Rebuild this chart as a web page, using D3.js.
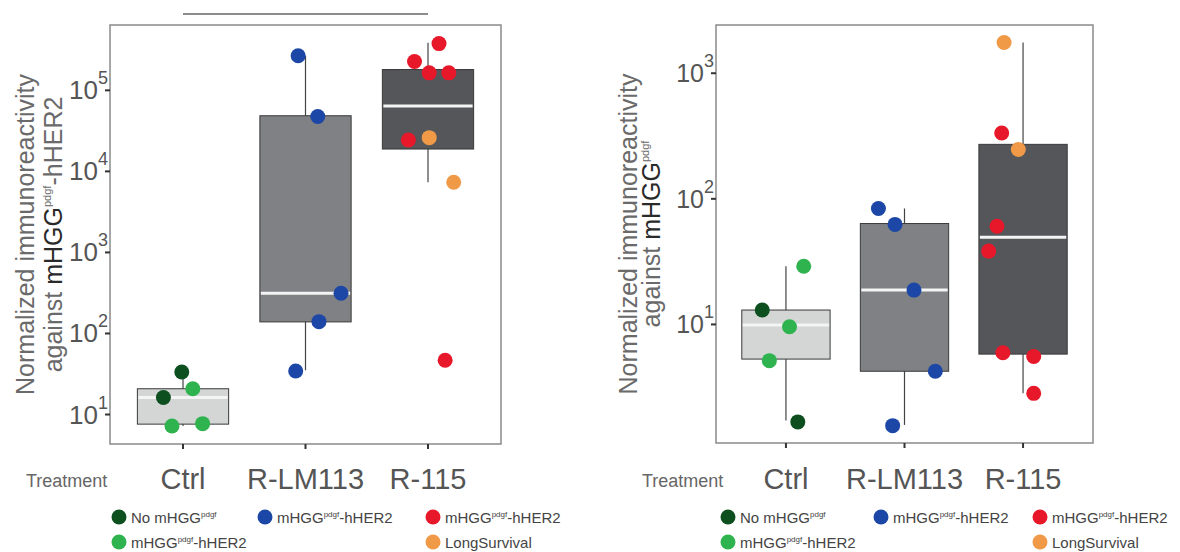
<!DOCTYPE html>
<html>
<head>
<meta charset="utf-8">
<script src="https://cdn.jsdelivr.net/npm/d3@7"></script>
<style>
  html, body { margin: 0; padding: 0; background: #fff; }
  svg { display: block; font-family: "Liberation Sans", Arial, sans-serif; }
</style>
</head>
<body>
<svg id="chart" width="1180" height="552"></svg>
<script>
// ---------------- DATA ----------------
const categories = ["Ctrl", "R-LM113", "R-115"];
const xAxisName = "Treatment";

// Left panel: against mHGG(pdgf)-hHER2
const leftTicks = [1e1, 1e2, 1e3, 1e4, 1e5];
const leftWhiskerLow  = [7.1, 34.7, 7240];
const leftQ1          = [7.5, 137, 18600];
const leftMedian      = [16, 309, 63100];
const leftQ3          = [20.5, 47900, 178000];
const leftWhiskerHigh = [33, 263000, 380000];
const leftPointGroup  = [0, 0, 0, 0, 0,   1, 1, 1, 1, 1,   2, 2, 2, 2, 2, 2, 2, 2];
const leftPointValue  = [33, 16, 20.5, 7.1, 7.6,   263000, 46800, 309, 138, 34,   372000, 224000, 162000, 162000, 24000, 46, 25700, 7240];
const leftPointType   = ["no", "no", "ctrl", "ctrl", "ctrl",   "lm", "lm", "lm", "lm", "lm",   "r115", "r115", "r115", "r115", "r115", "r115", "long", "long"];
const leftPointJitter = [-0.01, -0.16, 0.08, -0.09, 0.16,   -0.06, 0.10, 0.29, 0.11, -0.08,   0.09, -0.11, 0.01, 0.17, -0.16, 0.14, 0.01, 0.21];

// Right panel: against mHGG(pdgf)
const rightTicks = [1e1, 1e2, 1e3];
const rightWhiskerLow  = [1.7, 1.57, 2.8];
const rightQ1          = [5.25, 4.2, 5.75];
const rightMedian      = [9.8, 18.6, 49];
const rightQ3          = [12.9, 63, 269];
const rightWhiskerHigh = [28.8, 83, 1740];
const rightPointGroup  = [0, 0, 0, 0, 0,   1, 1, 1, 1, 1,   2, 2, 2, 2, 2, 2, 2, 2];
const rightPointValue  = [12.9, 9.5, 5.1, 28.8, 1.66,   83, 62, 18.6, 4.2, 1.55,   1740, 331, 245, 60, 38, 5.9, 5.5, 2.8];
const rightPointType   = ["no", "ctrl", "ctrl", "ctrl", "no",   "lm", "lm", "lm", "lm", "lm",   "long", "r115", "long", "r115", "r115", "r115", "r115", "r115"];
const rightPointJitter = [-0.20, 0.03, -0.14, 0.15, 0.10,   -0.22, -0.08, 0.08, 0.26, -0.10,   -0.16, -0.18, -0.04, -0.22, -0.29, -0.17, 0.09, 0.09];

// Legend
const legendTypes = ["no", "ctrl", "lm", "r115", "long"];
const legendBase  = ["No mHGG", "mHGG", "mHGG", "mHGG", "LongSurvival"];
const legendSup   = ["pdgf", "pdgf", "pdgf", "pdgf", ""];
const legendRest  = ["", "-hHER2", "-hHER2", "-hHER2", ""];
const legendCol   = [0, 0, 1, 2, 2];
const legendRow   = [0, 1, 0, 0, 1];

// Styling
const typeColor = { no: "#0e4f20", ctrl: "#2fb34f", lm: "#1c47a6", r115: "#e8182b", long: "#f09a48" };
const boxFill = ["#d3d6d5", "#7f8184", "#54565a"];

// ---------------- DRAW ----------------
const svg = d3.select("#chart");
const FONT = '"Liberation Sans", Arial, sans-serif';

function drawPanel(o) {
  const g = svg.append("g");
  const x = d3.scaleBand().domain(categories).range([o.x0, o.x1]).paddingInner(0).paddingOuter(o.padOuter);
  const y = d3.scaleLog().domain(o.yDomain).range([o.y1, o.y0]);
  const bw = x.bandwidth() * 0.745;
  const cx = i => x(categories[i]) + x.bandwidth() / 2;

  // whiskers
  g.selectAll("line.wh").data(categories).join("line")
    .attr("x1", (d, i) => cx(i)).attr("x2", (d, i) => cx(i))
    .attr("y1", (d, i) => y(o.wlo[i])).attr("y2", (d, i) => y(o.whi[i]))
    .attr("stroke", "#444").attr("stroke-width", 1.2);
  // boxes
  g.selectAll("rect.box").data(categories).join("rect")
    .attr("x", (d, i) => cx(i) - bw / 2).attr("width", bw)
    .attr("y", (d, i) => y(o.q3[i])).attr("height", (d, i) => y(o.q1[i]) - y(o.q3[i]))
    .attr("fill", (d, i) => boxFill[i]).attr("stroke", "#3a3a3a").attr("stroke-width", 1);
  // medians
  g.selectAll("line.med").data(categories).join("line")
    .attr("x1", (d, i) => cx(i) - bw / 2 + 1).attr("x2", (d, i) => cx(i) + bw / 2 - 1)
    .attr("y1", (d, i) => y(o.med[i])).attr("y2", (d, i) => y(o.med[i]))
    .attr("stroke", "#f4f4f4").attr("stroke-width", 3);
  // points
  g.selectAll("circle.pt").data(o.pv).join("circle")
    .attr("cx", (d, i) => cx(o.pg[i]) + o.pj[i] * x.step())
    .attr("cy", d => y(d))
    .attr("r", 7.5)
    .attr("fill", (d, i) => typeColor[o.pt[i]]);

  // frame
  g.append("rect").attr("x", o.x0).attr("y", o.y0)
    .attr("width", o.x1 - o.x0).attr("height", o.y1 - o.y0)
    .attr("fill", "none").attr("stroke", "#8a8a8a").attr("stroke-width", 1.5);

  // y axis
  const ya = g.append("g").attr("transform", `translate(${o.x0},0)`)
    .call(d3.axisLeft(y).tickValues(o.ticks).tickSize(5).tickFormat(() => ""));
  ya.select(".domain").remove();
  ya.selectAll(".tick line").attr("stroke", "#333").attr("stroke-width", 2);
  ya.selectAll(".tick text").remove();
  const tl = g.selectAll("text.yt").data(o.ticks).join("text")
    .attr("x", o.x0 - 2).attr("y", d => y(d) + 9.5)
    .attr("text-anchor", "end").attr("fill", "#555").style("font-family", FONT);
  tl.append("tspan").attr("font-size", o.tickFont).text("10");
  tl.append("tspan").attr("font-size", 18).attr("dy", -15).text(d => Math.round(Math.log10(d)));

  // x axis ticks
  const xa = g.append("g").attr("transform", `translate(0,${o.y1})`)
    .call(d3.axisBottom(x).tickSize(5).tickFormat(() => ""));
  xa.select(".domain").remove();
  xa.selectAll(".tick line").attr("stroke", "#333").attr("stroke-width", 2);
  xa.selectAll(".tick text").remove();

  // category labels
  g.selectAll("text.cat").data(categories).join("text")
    .attr("x", (d, i) => cx(i)).attr("y", 489)
    .attr("text-anchor", "middle").attr("font-size", 29).attr("fill", "#555")
    .style("font-family", FONT).text(d => d);
  g.append("text").attr("x", o.treatX).attr("y", 487)
    .attr("font-size", 18).attr("fill", "#666").style("font-family", FONT).text(xAxisName);

  // y title
  const midY = (o.y0 + o.y1) / 2;
  g.append("text").attr("transform", `translate(${o.t1x},${midY}) rotate(-90)`)
    .attr("text-anchor", "middle").attr("dy", "0.35em").attr("font-size", 25).attr("fill", "#6a6a6a")
    .style("font-family", FONT).text("Normalized immunoreactivity");
  const t2 = g.append("text").attr("transform", `translate(${o.t2x},${midY}) rotate(-90)`)
    .attr("text-anchor", "middle").attr("dy", "0.35em").attr("font-size", 25).attr("fill", "#6a6a6a")
    .style("font-family", FONT);
  t2.append("tspan").text("against ");
  t2.append("tspan").attr("fill", "#2a2a2a").text("mHGG");
  t2.append("tspan").attr("font-size", 11).attr("dy", -11).text("pdgf");
  if (o.titleRest) t2.append("tspan").attr("dy", 11).text(o.titleRest);

  // legend
  const rowY = [517, 542];
  legendTypes.forEach((t, i) => {
    const lx = o.legendX[legendCol[i]];
    const ly = rowY[legendRow[i]];
    g.append("circle").attr("cx", lx).attr("cy", ly).attr("r", 7.5).attr("fill", typeColor[t]);
    const tx = g.append("text").attr("x", lx + 12).attr("y", ly + 5.5)
      .attr("font-size", 15).attr("fill", "#444").style("font-family", FONT);
    tx.append("tspan").text(legendBase[i]);
    if (legendSup[i]) {
      tx.append("tspan").attr("font-size", 8).attr("dy", -6).text(legendSup[i]);
      if (legendRest[i]) tx.append("tspan").attr("dy", 6).text(legendRest[i]);
    }
  });
  return { x, y, cx };
}

const left = drawPanel({
  x0: 110, x1: 501, y0: 25, y1: 444, padOuter: 0.096,
  yDomain: [Math.pow(10, 0.63), Math.pow(10, 5.80)], ticks: leftTicks, tickFont: 26,
  wlo: leftWhiskerLow, q1: leftQ1, med: leftMedian, q3: leftQ3, whi: leftWhiskerHigh,
  pg: leftPointGroup, pv: leftPointValue, pt: leftPointType, pj: leftPointJitter,
  treatX: 26, t1x: 25, t2x: 53, titleRest: "-hHER2", legendX: [119, 265, 433]
});

drawPanel({
  x0: 716, x1: 1093, y0: 25, y1: 443, padOuter: 0.09,
  yDomain: [Math.pow(10, 0.052), Math.pow(10, 3.38)], ticks: rightTicks, tickFont: 25,
  wlo: rightWhiskerLow, q1: rightQ1, med: rightMedian, q3: rightQ3, whi: rightWhiskerHigh,
  pg: rightPointGroup, pv: rightPointValue, pt: rightPointType, pj: rightPointJitter,
  treatX: 642, t1x: 628, t2x: 651, titleRest: "", legendX: [728, 881, 1040]
});

// significance bar over left panel (Ctrl to R-115)
svg.append("line")
  .attr("x1", left.cx(0)).attr("x2", left.cx(2))
  .attr("y1", 14).attr("y2", 14)
  .attr("stroke", "#666").attr("stroke-width", 1.5);
</script>
</body>
</html>
